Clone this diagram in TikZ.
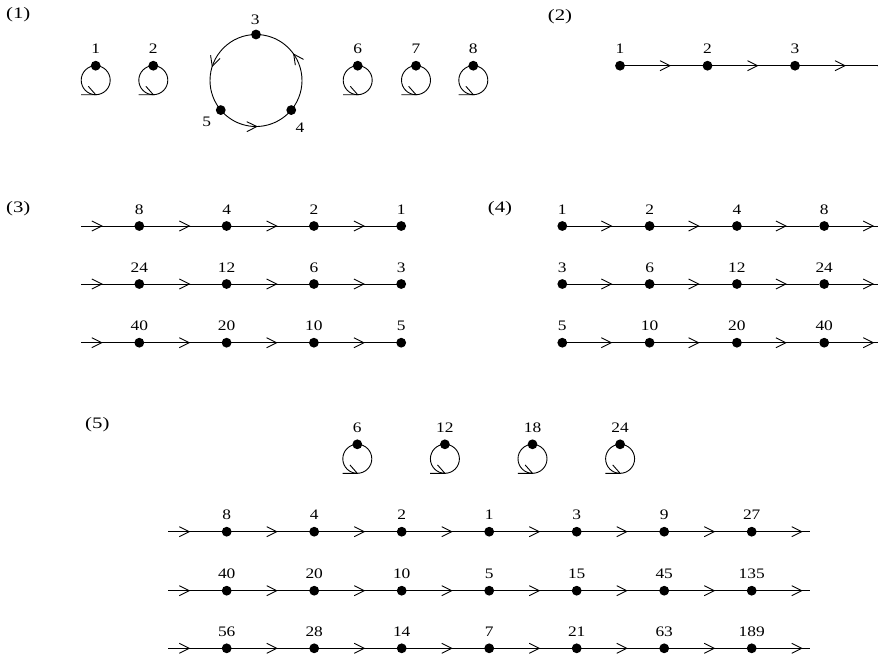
\documentclass[tikz,border=0pt]{standalone}
\usepackage{fontspec}
\setmainfont{Liberation Serif}
\newfontfamily\labfont[FakeStretch=1.2]{Liberation Serif}
\newfontfamily\panfont[FakeStretch=1.3]{Liberation Serif}
\usetikzlibrary{decorations.markings}
\tikzset{
  dot/.style={circle,fill=black,inner sep=0pt,minimum size=9.8pt},
  lab/.style={inner sep=0pt,font=\labfont\fontsize{14.5}{14.5}\selectfont},
  plab/.style={inner sep=0pt,font=\panfont\fontsize{16}{16}\selectfont},
  edge/.style={line width=0.9pt},
  chev/.style={edge,postaction={decorate},
    decoration={markings,mark=at position #1 with {\draw[line width=0.9pt] (-10pt,5pt)--(0pt,0pt)--(-10pt,-5pt);}}},
}
\begin{document}
\begin{tikzpicture}[x=1pt,y=1pt]
\useasboundingbox (0,0) rectangle (878,-657);
\clip (0,0) rectangle (878,-657);

% ---------- panel (1)
\node[plab] (t1) at (18.3,-15) {(1)};
\foreach \n/\x in {1/95.7,2/153.3,6/357.7,7/416,8/473.3} {
  \node[dot] (s\n) at (\x,-65.7) {};
  \node[lab] (ls\n) at (\x,-49) {\n};
  \draw[edge] (s\n.center) arc[start angle=90,end angle=450,radius=14.5pt];
  \draw[edge] ({\x-14.7},-94.7) -- (\x,-94.7) -- ({\x-7.4},-86.3);
}
\node[dot] (c3) at (256,-34.5) {};
\node[dot] (c4) at (291.24,-110.07) {};
\node[dot] (c5) at (220.76,-110.07) {};
\node[lab] (lc3) at (255.3,-20) {3};
\node[lab] (lc4) at (300,-127.7) {4};
\node[lab] (lc5) at (206.7,-122) {5};
\draw[chev=0.554] (c3.center) arc[start angle=90,end angle=220,radius=46pt];
\draw[chev=0.577] (c4.center) arc[start angle=-40,end angle=90,radius=46pt];
\draw[chev=0.51] (c5.center) arc[start angle=220,end angle=320,radius=46pt];

% ---------- panel (2)
\node[plab] (t2) at (560,-16.7) {(2)};
\foreach \l [count=\i] in {1,2,3,4} {
  \node[dot] (q\i) at ({620+87.5*(\i-1)},-65.7) {};
  \node[lab] (lq\i) at ({620+87.5*(\i-1)},-49) {\l};
}
\foreach \i in {1,2,3} {
  \pgfmathtruncatemacro\j{\i+1}
  \draw[chev=50pt] (q\i.center) -- (q\j.center);
}

% ---------- panel (3)
\node[plab] (t3) at (18.3,-209) {(3)};
\foreach \row/\y/\labs in {a/226/{8,4,2,1},b/284/{24,12,6,3},c/342.7/{40,20,10,5}} {
  \coordinate (p3\row0) at (81,-\y);
  \foreach \l [count=\i] in \labs {
    \node[dot] (p3\row\i) at ({139.3+87.3*(\i-1)},-\y) {};
    \node[lab] (lp3\row\i) at ({139.3+87.3*(\i-1)},{-\y+16.7}) {\l};
  }
  \draw[chev=-37.5pt] (p3\row0) -- (p3\row1.center);
  \foreach \i in {1,2,3} {
    \pgfmathtruncatemacro\j{\i+1}
    \draw[chev=50pt] (p3\row\i.center) -- (p3\row\j.center);
  }
}

% ---------- panel (4)
\node[plab] (t4) at (500,-208.3) {(4)};
\foreach \row/\y/\labs in {a/226/{1,2,4,8},b/284/{3,6,12,24},c/342.7/{5,10,20,40}} {
  \foreach \l [count=\i] in \labs {
    \node[dot] (p4\row\i) at ({562.3+87.3*(\i-1)},-\y) {};
    \node[lab] (lp4\row\i) at ({562.3+87.3*(\i-1)},{-\y+16.7}) {\l};
  }
  \coordinate (p4\row5) at (895,-\y);
  \foreach \i in {1,2,3,4} {
    \pgfmathtruncatemacro\j{\i+1}
    \draw[chev=49pt] (p4\row\i.center) -- (p4\row\j);
  }
}

% ---------- panel (5)
\node[plab] (t5) at (97.3,-425) {(5)};
\foreach \l [count=\i] in {6,12,18,24} {
  \pgfmathsetmacro\x{357.3+87.6*(\i-1)}
  \node[dot] (r\i) at (\x,-444.3) {};
  \node[lab] (lr\i) at (\x,-428) {\l};
  \draw[edge] (r\i.center) arc[start angle=90,end angle=450,radius=14.5pt];
  \draw[edge] ({\x-14.7},-473.3) -- (\x,-473.3) -- ({\x-7.4},-464.9);
}
\foreach \row/\y/\labs in {a/531.7/{8,4,2,1,3,9,27},b/590.7/{40,20,10,5,15,45,135},c/648.3/{56,28,14,7,21,63,189}} {
  \coordinate (p5\row0) at (168.3,-\y);
  \coordinate (p5\row8) at (810,-\y);
  \foreach \l [count=\i] in \labs {
    \node[dot] (p5\row\i) at ({226.7+87.5*(\i-1)},-\y) {};
    \node[lab] (lp5\row\i) at ({226.7+87.5*(\i-1)},{-\y+16.7}) {\l};
  }
  \draw[chev=-37.4pt] (p5\row0) -- (p5\row1.center);
  \foreach \i in {1,...,6} {
    \pgfmathtruncatemacro\j{\i+1}
    \draw[chev=50pt] (p5\row\i.center) -- (p5\row\j.center);
  }
  \draw[chev=50pt] (p5\row7.center) -- (p5\row8);
}
\end{tikzpicture}
\end{document}
